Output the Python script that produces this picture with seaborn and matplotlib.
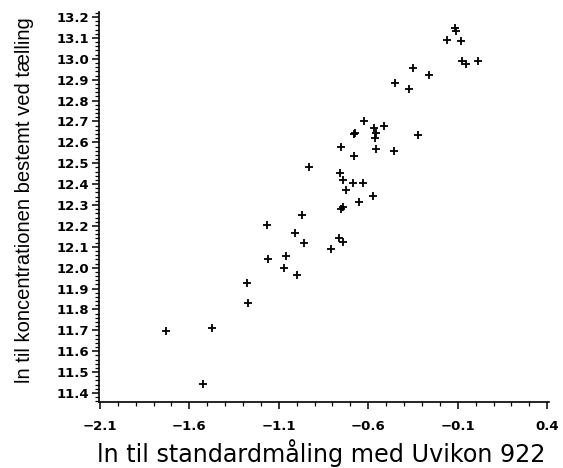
import matplotlib
matplotlib.use("Agg")
import matplotlib.pyplot as plt
import seaborn as sns
from matplotlib.ticker import MultipleLocator, FixedLocator

# ── data ────────────────────────────────────────────────────────
x_vals = [-0.113, -0.108, -0.158, -0.083, -0.076, -0.055, 0.012, -0.351, -0.260,
          -0.450, -0.374, -0.623, -0.568, -0.510, -0.681, -0.676, -0.556, -0.560,
          -0.320, -0.755, -0.556, -0.454, -0.679, -0.932, -0.757, -0.742, -0.687,
          -0.629, -0.727, -0.573, -0.650, -0.752, -0.742, -0.968, -1.165, -1.011,
          -0.960, -0.761, -0.741, -0.810, -1.061, -1.158, -1.070, -0.996, -1.279,
          -1.271, -1.733, -1.473, -1.526]
y_vals = [13.146, 13.134, 13.088, 13.085, 12.991, 12.975, 12.989, 12.956, 12.924,
          12.884, 12.854, 12.704, 12.670, 12.677, 12.641, 12.645, 12.645, 12.622,
          12.634, 12.576, 12.567, 12.559, 12.535, 12.481, 12.453, 12.420, 12.405,
          12.405, 12.370, 12.345, 12.314, 12.282, 12.292, 12.254, 12.206, 12.166,
          12.120, 12.143, 12.123, 12.090, 12.057, 12.043, 11.997, 11.966, 11.927,
          11.830, 11.698, 11.713, 11.442]

x_ticks = [-2.1, -1.6, -1.1, -0.6, -0.1, 0.4]
y_ticks = [11.4, 11.5, 11.6, 11.7, 11.8, 11.9, 12.0, 12.1, 12.2, 12.3,
           12.4, 12.5, 12.6, 12.7, 12.8, 12.9, 13.0, 13.1, 13.2]

x_label = "ln til standardmåling med Uvikon 922"
y_label = "ln til koncentrationen bestemt ved tælling"

sns.set_style("ticks")
plt.rcParams["font.family"] = ["Liberation Sans", "DejaVu Sans"]

fig = plt.figure(figsize=(5.63, 4.68), dpi=100)
ax = fig.add_axes([99 / 563, 66 / 468, 450 / 563, 390 / 468])

sns.scatterplot(x=x_vals, y=y_vals, marker="+", color="black", s=40,
                linewidth=1.3, ax=ax)

ax.set_xlim(-2.105, 0.41)
ax.set_ylim(11.357, 13.224)

ax.xaxis.set_major_locator(FixedLocator(x_ticks))
ax.xaxis.set_minor_locator(MultipleLocator(0.1))
ax.yaxis.set_major_locator(FixedLocator(y_ticks))
ax.yaxis.set_minor_locator(MultipleLocator(0.02))
ax.set_xticklabels([f"{t:.1f}".replace("-", "\u2212") for t in x_ticks],
                   fontweight="bold", fontsize=9.5, family="DejaVu Sans")
ax.set_yticklabels([f"{t:.1f}" for t in y_ticks], fontweight="bold",
                   fontsize=9.5, family="DejaVu Sans")

ax.tick_params(axis="both", which="major", direction="out", length=5,
               width=1.1, color="black", labelcolor="black")
ax.tick_params(axis="both", which="minor", direction="out", length=3,
               width=0.9, color="black")
ax.tick_params(axis="x", which="major", pad=8)
ax.tick_params(axis="y", which="major", pad=2)

sns.despine(ax=ax)
for side in ("left", "bottom"):
    ax.spines[side].set_linewidth(1.2)
    ax.spines[side].set_color("black")

ax.set_xlabel(x_label, fontsize=17.2, family="DejaVu Sans", color="black")
ax.xaxis.set_label_coords(0.493, -0.095)
ax.set_ylabel(y_label, fontsize=14.5, color="black")
ax.yaxis.set_label_coords(-0.145, 0.518)

plt.savefig("out.png", dpi=100)
